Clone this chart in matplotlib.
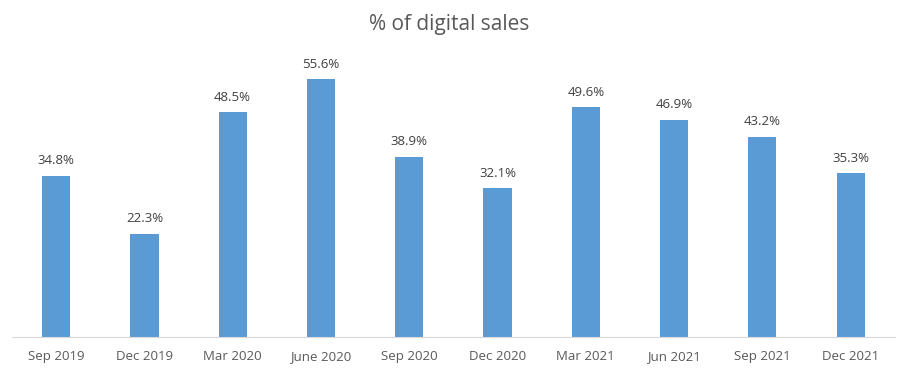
import matplotlib.pyplot as plt

quarters = ['Sep 2019', 'Dec 2019', 'Mar 2020', 'June 2020', 'Sep 2020',
            'Dec 2020', 'Mar 2021', 'Jun 2021', 'Sep 2021', 'Dec 2021']
digital_pct = [34.8, 22.3, 48.5, 55.6, 38.9, 32.1, 49.6, 46.9, 43.2, 35.3]

plt.rcParams['font.family'] = ['Open Sans', 'DejaVu Sans']

fig = plt.figure(figsize=(8.99, 3.75), dpi=100)
ax = fig.add_axes([0.0133, 0.101, 0.982, 0.779])

bars = ax.bar(range(len(quarters)), digital_pct, width=0.32, color='#5B9BD5')
ax.bar_label(bars, labels=[f'{v:.1f}%' for v in digital_pct], padding=6,
             fontsize=9.5, color='#404040')

ax.set_xlim(-0.5, len(quarters) - 0.5)
ax.set_ylim(0, 63)
ax.set_xticks(range(len(quarters)))
ax.set_xticklabels(quarters, fontsize=9.5, color='#595959')
ax.tick_params(axis='x', length=0, pad=9)
ax.set_yticks([])
for side in ['top', 'right', 'left']:
    ax.spines[side].set_visible(False)
ax.spines['bottom'].set_color('#D9D9D9')

fig.text(0.5, 0.935, '% of digital sales', ha='center', va='center',
         fontsize=15, color='#595959')

fig.savefig('out.png', dpi=100)
